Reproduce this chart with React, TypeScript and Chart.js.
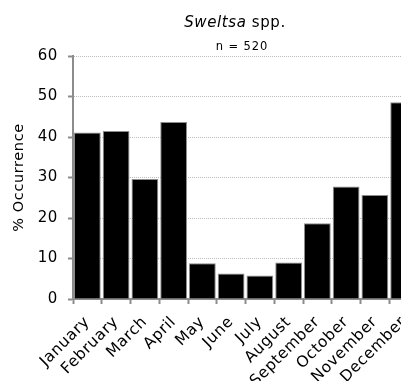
import React, { useEffect, useRef } from "react";
import { Chart, registerables } from "chart.js";

Chart.register(...registerables);

const CATEGORIES = [
  "January", "February", "March", "April", "May", "June",
  "July", "August", "September", "October", "November", "December",
];
const OCCURRENCE = [41.1, 41.5, 29.6, 43.7, 8.8, 6.3, 5.8, 9.0, 18.7, 27.8, 25.7, 48.6];
const Y_MIN = 0;
const Y_MAX = 60;
const Y_STEP = 10;
const TITLE_ITALIC = "Sweltsa";
const TITLE_REST = " spp.";
const SUBTITLE = "n = 520";
const Y_TITLE = "% Occurrence";

const FONT = "'DejaVu Sans', Verdana, sans-serif";
const SPACING = "0.6px";

const spacingPlugin = {
  id: "spacing",
  beforeUpdate(chart: any) { chart.ctx.letterSpacing = SPACING; },
  beforeLayout(chart: any) { chart.ctx.letterSpacing = SPACING; },
  beforeDraw(chart: any) { chart.ctx.letterSpacing = SPACING; },
};

const titlePlugin = {
  id: "customTitle",
  afterDraw(chart: any) {
    const ctx = chart.ctx;
    ctx.save();
    ctx.letterSpacing = SPACING;
    ctx.fillStyle = "#000";
    ctx.textBaseline = "alphabetic";
    ctx.textAlign = "left";
    const italicFont = `italic 15px ${FONT}`;
    const normalFont = `15px ${FONT}`;
    ctx.font = italicFont;
    const w1 = ctx.measureText(TITLE_ITALIC).width;
    ctx.font = normalFont;
    const w2 = ctx.measureText(TITLE_REST).width;
    const cx = 227;
    const x = cx - (w1 + w2) / 2;
    ctx.font = italicFont;
    ctx.fillText(TITLE_ITALIC, x, 19);
    ctx.font = normalFont;
    ctx.fillText(TITLE_REST, x + w1, 19);
    ctx.font = `11.5px ${FONT}`;
    ctx.letterSpacing = "0.9px";
    ctx.textAlign = "center";
    ctx.fillText(SUBTITLE, 234, 42);
    ctx.restore();
  },
};

export default function App() {
  const ref = useRef<HTMLCanvasElement>(null);
  useEffect(() => {
    if (!ref.current) return;
    const chart = new Chart(ref.current, {
      type: "bar",
      data: {
        labels: CATEGORIES,
        datasets: [
          {
            data: OCCURRENCE,
            backgroundColor: "#000000",
            borderColor: "#8c8c8c",
            borderWidth: 1,
            categoryPercentage: 0.93,
            barPercentage: 1.0,
          },
        ],
      },
      options: {
        responsive: false,
        animation: false,
        devicePixelRatio: 1,
        layout: { padding: { top: 48, right: 20, left: 0, bottom: 0 } },
        plugins: {
          legend: { display: false },
          title: { display: false },
          tooltip: { enabled: false },
        },
        scales: {
          x: {
            afterFit: (s: any) => { s.height = 109; },
            grid: {
              display: true,
              offset: true,
              drawOnChartArea: false,
              drawTicks: true,
              tickLength: 5,
              tickColor: "#8c8c8c",
              tickWidth: 2,
            },
            border: { display: true, color: "#8c8c8c", width: 2 },
            ticks: {
              color: "#000",
              font: { family: FONT, size: 15.5 },
              maxRotation: 45,
              minRotation: 45,
              autoSkip: false,
              padding: 9,
            },
          },
          y: {
            min: Y_MIN,
            max: Y_MAX,
            afterFit: (s: any) => { s.width = 65; },
            ticks: {
              stepSize: Y_STEP,
              color: "#000",
              font: { family: FONT, size: 15 },
              padding: 10,
            },
            grid: {
              drawTicks: true,
              tickLength: 5,
              tickColor: "#8c8c8c",
              tickWidth: 2,
              lineWidth: 1,
              color: (c: any) => (c.tick && c.tick.value === 0 ? "rgba(0,0,0,0)" : "#bdbdbd"),
            },
            border: { display: true, color: "#8c8c8c", width: 2, dash: [1, 1] },
            title: {
              display: true,
              text: Y_TITLE,
              color: "#000",
              font: { family: FONT, size: 14.5 },
              padding: { top: 3, bottom: 0 },
            },
          },
        },
      },
      plugins: [spacingPlugin, titlePlugin],
    });
    return () => chart.destroy();
  }, []);
  return (
    <div style={{ width: 401, height: 373, overflow: "hidden" }}>
      <canvas ref={ref} width={430} height={400} style={{ display: "block" }} />
    </div>
  );
}
